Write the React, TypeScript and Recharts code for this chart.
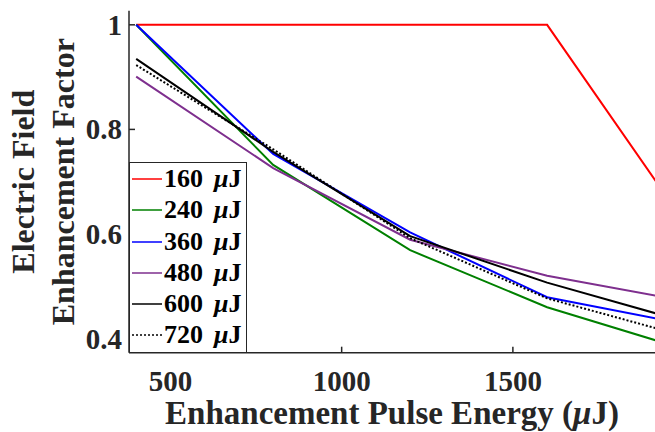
import { LineChart, Line, XAxis, YAxis, Legend, Label } from "recharts"

// pulse energies on the x axis (uJ)
const energies = [400, 800, 1200, 1600, 2000]

// enhancement factor for each reference pulse energy
const e160 = [1, 1, 1, 1, 0.623]
const e240 = [1, 0.732, 0.569, 0.46, 0.38]
const e360 = [1, 0.753, 0.603, 0.479, 0.428]
const e480 = [0.901, 0.726, 0.589, 0.52, 0.472]
const e600 = [0.935, 0.757, 0.596, 0.507, 0.433]
const e720 = [0.923, 0.762, 0.592, 0.477, 0.405]

const xTicks = [500, 1000, 1500]
const yTicks = [0.4, 0.6, 0.8, 1]

const FONT = '"Liberation Serif", "Times New Roman", serif'
const INK = "#262626"

const series = [
  { key: "e160", label: "160", values: e160, color: "#ff0000", dash: undefined },
  { key: "e240", label: "240", values: e240, color: "#008000", dash: undefined },
  { key: "e360", label: "360", values: e360, color: "#0000ff", dash: undefined },
  { key: "e480", label: "480", values: e480, color: "#7e2f8e", dash: undefined },
  { key: "e600", label: "600", values: e600, color: "#000000", dash: undefined },
  { key: "e720", label: "720", values: e720, color: "#000000", dash: "2 2" },
]

const data = energies.map((x, i) => {
  const row: any = { energy: x }
  series.forEach((s) => {
    row[s.key] = s.values[i]
  })
  return row
})

const BottomTick = (props: any) => {
  const { x, y, payload } = props
  return (
    <g>
      <line x1={x} x2={x} y1={y} y2={y - 6} stroke={INK} strokeWidth={1.5} />
      <text x={x} y={y + 38.5} textAnchor="middle" fill={INK} fontFamily={FONT} fontWeight="bold" fontSize={29}>
        {payload.value}
      </text>
    </g>
  )
}

const TopTick = (props: any) => {
  const { x, y } = props
  return <line x1={x} x2={x} y1={y} y2={y + 6} stroke={INK} strokeWidth={1.5} />
}

const LeftTick = (props: any) => {
  const { x, y, payload } = props
  const v = payload.value
  return (
    <g>
      <line x1={x} x2={x + 6} y1={y} y2={y} stroke={INK} strokeWidth={1.5} />
      <text x={x - 7} y={y + 10} textAnchor="end" fill={INK} fontFamily={FONT} fontWeight="bold" fontSize={29}>
        {v === 1 ? "1" : v.toFixed(1)}
      </text>
    </g>
  )
}

const XTitle = (props: any) => {
  const vb = props.viewBox
  return (
    <text x={vb.x + vb.width / 2} y={424} textAnchor="middle" fill={INK} fontFamily={FONT} fontWeight="bold" fontSize={33}>
      Enhancement Pulse Energy (<tspan fontStyle="italic">μ</tspan>J)
    </text>
  )
}

const YTitle = (props: any) => {
  const vb = props.viewBox
  const cy = vb.y + vb.height / 2
  return (
    <g fill={INK} fontFamily={FONT} fontWeight="bold" fontSize={32}>
      <text x={34.5} y={cy} textAnchor="middle" transform={`rotate(-90, 34.5, ${cy})`}>
        Electric Field
      </text>
      <text x={74} y={cy} textAnchor="middle" transform={`rotate(-90, 74, ${cy})`}>
        Enhancement Factor
      </text>
    </g>
  )
}

const LegendBox = () => (
  <div
    style={{
      width: "100%",
      height: "100%",
      boxSizing: "border-box",
      border: `1.5px solid ${INK}`,
      background: "#fff",
      paddingTop: 1,
    }}
  >
    {series.map((s) => (
      <div key={s.key} style={{ display: "flex", alignItems: "center", height: 31.2 }}>
        <svg width={34} height={10} style={{ flex: "none" }}>
          <line x1={2} x2={32} y1={5} y2={5} stroke={s.color} strokeWidth={1.5} strokeDasharray={s.dash} />
        </svg>
        <span
          style={{
            fontFamily: FONT,
            fontWeight: "bold",
            fontSize: 26,
            color: "#000",
            lineHeight: "26px",
            whiteSpace: "nowrap",
          }}
        >
          {s.label}
          <i style={{ marginLeft: 11 }}>μ</i>J
        </span>
      </div>
    ))}
  </div>
)

export default function App() {
  return (
    <div style={{ position: "absolute", left: 0, top: 0, width: 655, height: 432, background: "#fff" }}>
      <LineChart width={655} height={432} data={data} margin={{ top: 10.7, right: 0, bottom: 0, left: 0 }}>
        <XAxis
          dataKey="energy"
          type="number"
          domain={[379, 1915]}
          allowDataOverflow
          ticks={xTicks}
          height={79.3}
          tickSize={0}
          tickMargin={0}
          tick={<BottomTick />}
          stroke={INK}
          strokeWidth={1.5}
        >
          <Label content={<XTitle />} />
        </XAxis>
        <XAxis
          xAxisId="top"
          orientation="top"
          dataKey="energy"
          type="number"
          domain={[379, 1915]}
          allowDataOverflow
          ticks={xTicks}
          height={0}
          tickSize={0}
          tickMargin={0}
          tick={<TopTick />}
          stroke={INK}
          strokeWidth={1.5}
        />
        <YAxis
          type="number"
          domain={[0.373, 1.027]}
          allowDataOverflow
          ticks={yTicks}
          width={129}
          tickSize={0}
          tickMargin={0}
          tick={<LeftTick />}
          stroke={INK}
          strokeWidth={1.5}
        >
          <Label content={<YTitle />} />
        </YAxis>
        {series.map((s) => (
          <Line
            key={s.key}
            dataKey={s.key}
            type="linear"
            stroke={s.color}
            strokeWidth={2}
            strokeDasharray={s.dash}
            dot={false}
            isAnimationActive={false}
          />
        ))}
        <Legend
          layout="vertical"
          align="center"
          verticalAlign="middle"
          content={<LegendBox />}
          wrapperStyle={{ position: "absolute", left: 129, top: 161.7, width: 118, height: 191, margin: 0 }}
        />
      </LineChart>
    </div>
  )
}
